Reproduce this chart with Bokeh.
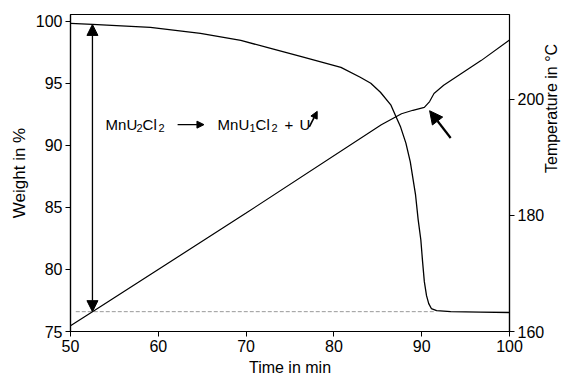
import math
from bokeh.plotting import figure
from bokeh.models import Range1d, LinearAxis, Arrow, NormalHead, Label, FixedTicker
from bokeh.embed import file_html
from bokeh.resources import INLINE

# Weight (TGA) curve: time in min, weight in %
w_time = [50.0, 52.5, 59.1, 64.8, 69.4, 72.8, 76.2, 80.8, 83.0, 84.2, 85.3, 86.5, 87.0, 87.6, 88.2,
          88.7, 89.3, 89.6, 89.9, 90.1, 90.3, 90.55, 90.8, 91.1, 91.7, 93.3, 96.7, 100.0]
w_pct = [99.84, 99.76, 99.52, 99.04, 98.47, 97.83, 97.19, 96.30, 95.50, 95.02, 94.29, 93.25, 92.44, 91.48, 90.19,
         88.67, 86.01, 84.00, 82.40, 80.63, 79.02, 77.89, 77.25, 76.85, 76.69, 76.61, 76.57, 76.53]

# Temperature programme: time in min, temperature in °C
t_time = [50.0, 52.5, 70.0, 85.4, 87.7, 89.0, 90.3, 90.9, 91.4, 92.5, 96.8, 100.0]
t_degc = [161.0, 163.4, 180.4, 195.6, 197.5, 198.1, 198.6, 199.6, 201.0, 202.4, 206.7, 210.2]

x_ticks = [50, 60, 70, 80, 90, 100]
w_ticks = [75, 80, 85, 90, 95, 100]
t_ticks = [160, 180, 200]

start_weight = 99.76
final_weight = 76.6
step_time = 52.5

FONT = "Liberation Sans"

p = figure(width=575, height=378, output_backend="svg", toolbar_location=None,
           x_range=Range1d(50, 100), y_range=Range1d(75, 100.56),
           min_border_left=70, min_border_right=66, min_border_top=14, min_border_bottom=46)
p.extra_y_ranges = {"temp": Range1d(160, 214.6)}
p.grid.visible = False
p.outline_line_color = "black"
p.outline_line_width = 1.2

p.xaxis.ticker = FixedTicker(ticks=x_ticks)
p.yaxis.ticker = FixedTicker(ticks=w_ticks)
p.xaxis.axis_label = "Time in min"
p.yaxis.axis_label = "Weight in %"

right = LinearAxis(y_range_name="temp", ticker=FixedTicker(ticks=t_ticks),
                   axis_label="Temperature in °C", bounds=(160, 200))
if "axis_label_orientation" in LinearAxis.properties():
    right.axis_label_orientation = math.pi / 2
p.add_layout(right, "right")

for ax in p.axis:
    ax.major_label_text_font = FONT
    ax.major_label_text_font_size = "16px"
    ax.major_label_text_color = "black"
    ax.axis_label_text_font = FONT
    ax.axis_label_text_font_size = "16px"
    ax.axis_label_text_font_style = "normal"
    ax.axis_label_text_color = "black"
    ax.axis_line_color = "black"
    ax.axis_line_width = 1.2
    ax.major_tick_line_color = "black"
    ax.major_tick_out = 5
    ax.major_tick_in = 0
    ax.minor_tick_line_color = None
    ax.axis_label_standoff = 4
    ax.major_label_standoff = 3
p.yaxis[0].axis_label_text_font_size = "17px"

# reference level of the residue
p.line([50.6, 91.5], [final_weight, final_weight], line_color="#9a9a9a",
       line_width=1, line_dash="4 2")

p.line(w_time, w_pct, line_color="black", line_width=1.3)
p.line(t_time, t_degc, line_color="black", line_width=1.2, y_range_name="temp")

# double arrow for the mass loss
p.add_layout(Arrow(x_start=step_time, y_start=start_weight, x_end=step_time, y_end=final_weight,
                   line_color="black", line_width=1.3,
                   start=NormalHead(size=11, fill_color="black", line_color="black"),
                   end=NormalHead(size=11, fill_color="black", line_color="black")))

# arrow pointing to the kink
p.add_layout(Arrow(x_start=93.3, y_start=90.6, x_end=90.9, y_end=92.8,
                   line_color="black", line_width=2.2,
                   end=NormalHead(size=13, fill_color="black", line_color="black")))

# reaction equation, typeset piece by piece
eq_x, eq_y = 54.0, 91.68
pieces = [("MnU", 0, False), ("2", 31, True), ("Cl", 37, False), ("2", 53, True),
          ("MnU", 112, False), ("1", 144, True), ("Cl", 150, False), ("2", 166, True),
          ("+", 179, False), ("U", 194, False)]
for txt, dx, sub in pieces:
    p.add_layout(Label(x=eq_x, y=eq_y, x_offset=dx, y_offset=-3 if sub else 0, text=txt,
                       text_font=FONT, text_font_size="11px" if sub else "15px",
                       text_color="black", text_baseline="alphabetic"))
# reaction arrow and gas-escape arrow
p.add_layout(Arrow(x_start=62.2, y_start=91.68, x_end=65.2, y_end=91.68,
                   line_color="black", line_width=1.2,
                   end=NormalHead(size=7, fill_color="black", line_color="black")))
p.add_layout(Arrow(x_start=77.2, y_start=91.5, x_end=78.1, y_end=92.75,
                   line_color="black", line_width=1.6,
                   end=NormalHead(size=7, fill_color="black", line_color="black")))

open("out.html", "w").write(file_html(p, INLINE))
